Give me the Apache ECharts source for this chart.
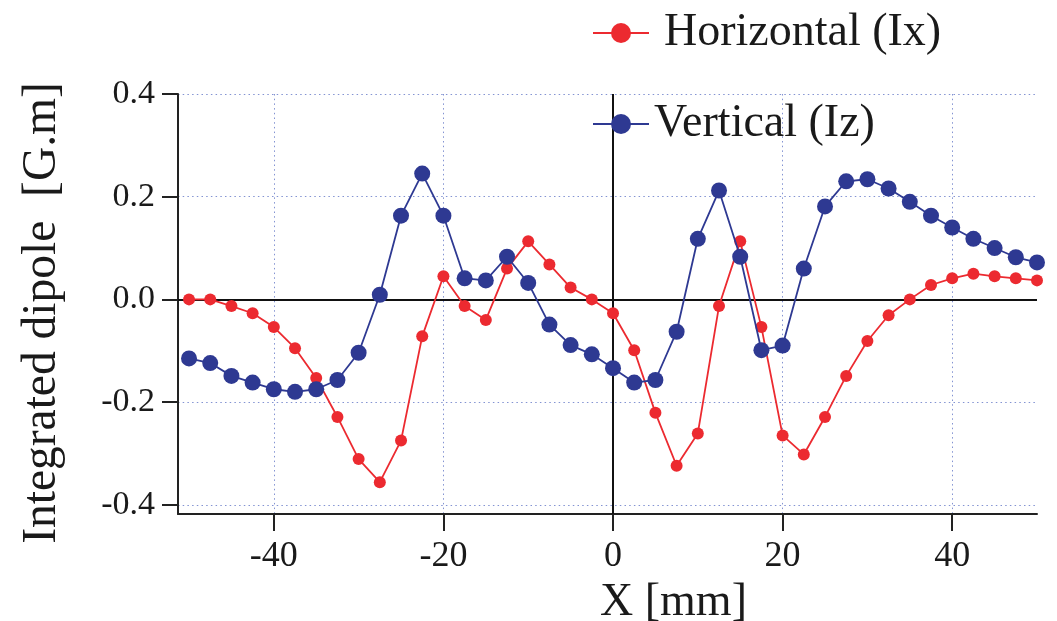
<!DOCTYPE html>
<html>
<head>
<meta charset="utf-8">
<script src="https://cdn.jsdelivr.net/npm/echarts@6/dist/echarts.min.js"></script>
<style>
html,body{margin:0;padding:0;background:#fff;}
#chart{width:1057px;height:621px;}
</style>
</head>
<body>
<div id="chart"></div>
<script>
var xValues = [-50, -47.5, -45, -42.5, -40, -37.5, -35, -32.5, -30, -27.5,
  -25, -22.5, -20, -17.5, -15, -12.5, -10, -7.5, -5, -2.5,
  0, 2.5, 5, 7.5, 10, 12.5, 15, 17.5, 20, 22.5,
  25, 27.5, 30, 32.5, 35, 37.5, 40, 42.5, 45, 47.5, 50];
var horizontal = [0.000, 0.000, -0.013, -0.027, -0.054, -0.095, -0.153, -0.229, -0.311, -0.356,
  -0.275, -0.072, 0.045, -0.013, -0.040, 0.060, 0.113, 0.068, 0.023, 0.000,
  -0.027, -0.099, -0.221, -0.324, -0.261, -0.013, 0.113, -0.054, -0.265, -0.302,
  -0.229, -0.149, -0.081, -0.031, 0.000, 0.028, 0.041, 0.050, 0.045, 0.041, 0.037];
var vertical = [-0.115, -0.124, -0.149, -0.162, -0.175, -0.180, -0.175, -0.157, -0.104, 0.009,
  0.163, 0.245, 0.163, 0.041, 0.037, 0.083, 0.032, -0.049, -0.089, -0.107,
  -0.134, -0.162, -0.157, -0.063, 0.118, 0.212, 0.083, -0.099, -0.090, 0.060,
  0.181, 0.230, 0.234, 0.216, 0.190, 0.163, 0.140, 0.118, 0.100, 0.082, 0.072];
var xTicks = [-40, -20, 0, 20, 40];
var yTicks = [-0.4, -0.2, 0.0, 0.2, 0.4];
var seriesNames = ['Horizontal (Ix)', 'Vertical (Iz)'];

function pairs(xs, ys) { return xs.map(function (x, i) { return [x, ys[i]]; }); }

var FONT = 'Liberation Serif';
var gridStyle = { color: '#8393d2', width: 1, type: [1.5, 3.2] };

var chart = echarts.init(document.getElementById('chart'), null, { renderer: 'canvas' });
chart.setOption({
  backgroundColor: '#ffffff',
  animation: false,
  grid: { left: 178, right: 20, top: 94, bottom: 107, containLabel: false, outerBoundsMode: 'none' },
  legend: {
    orient: 'vertical',
    left: 587,
    top: 5,
    padding: 5,
    itemWidth: 56,
    itemHeight: 25,
    itemGap: 45,
    textStyle: { fontFamily: FONT, fontSize: 46, color: '#1a1a1a' },
    data: [
      { name: seriesNames[0], textStyle: { padding: [0, 0, 0, 10] } },
      { name: seriesNames[1] }
    ]
  },
  xAxis: {
    type: 'value',
    min: -51.3,
    max: 50,
    name: 'X [mm]',
    nameLocation: 'middle',
    nameGap: 57,
    nameTextStyle: { fontFamily: FONT, fontSize: 46, color: '#1a1a1a', padding: [0, 0, 0, 132] },
    axisLine: { onZero: false, lineStyle: { color: '#222', width: 2 } },
    axisTick: { show: true, inside: false, length: 17, lineStyle: { color: '#222', width: 2 }, customValues: xTicks },
    axisLabel: { fontFamily: FONT, fontSize: 36, color: '#1a1a1a', margin: 25, customValues: xTicks },
    splitLine: { show: true, lineStyle: gridStyle }
  },
  yAxis: {
    type: 'value',
    min: -0.418,
    max: 0.4,
    name: 'Integrated dipole  [G.m]',
    nameLocation: 'middle',
    nameGap: 111,
    nameRotate: 90,
    nameTextStyle: { fontFamily: FONT, fontSize: 47.5, color: '#1a1a1a', padding: [0, 18, 0, 0] },
    axisLine: { onZero: false, lineStyle: { color: '#222', width: 2 } },
    axisTick: { show: true, inside: false, length: 16, lineStyle: { color: '#222', width: 2 }, customValues: yTicks },
    axisLabel: {
      fontFamily: FONT, fontSize: 34, color: '#1a1a1a', margin: 23, customValues: yTicks,
      formatter: function (v) { return (Math.abs(v) < 1e-9 ? 0 : v).toFixed(1); }
    },
    splitLine: { show: true, lineStyle: gridStyle }
  },
  series: [
    {
      name: seriesNames[0],
      type: 'line',
      data: pairs(xValues, horizontal),
      symbol: 'circle',
      symbolSize: 12,
      clip: false,
      z: 3,
      lineStyle: { color: '#ec2a30', width: 1.8 },
      itemStyle: { color: '#ec2a30' },
      markLine: {
        silent: true,
        symbol: 'none',
        label: { show: false },
        lineStyle: { color: '#111', width: 2, type: 'solid' },
        data: [{ yAxis: 0 }, { xAxis: 0 }],
        z: 1
      }
    },
    {
      name: seriesNames[1],
      type: 'line',
      data: pairs(xValues, vertical),
      symbol: 'circle',
      symbolSize: 16,
      clip: false,
      z: 4,
      lineStyle: { color: '#2e3992', width: 1.8 },
      itemStyle: { color: '#2e3992' }
    }
  ]
});
</script>
</body>
</html>
